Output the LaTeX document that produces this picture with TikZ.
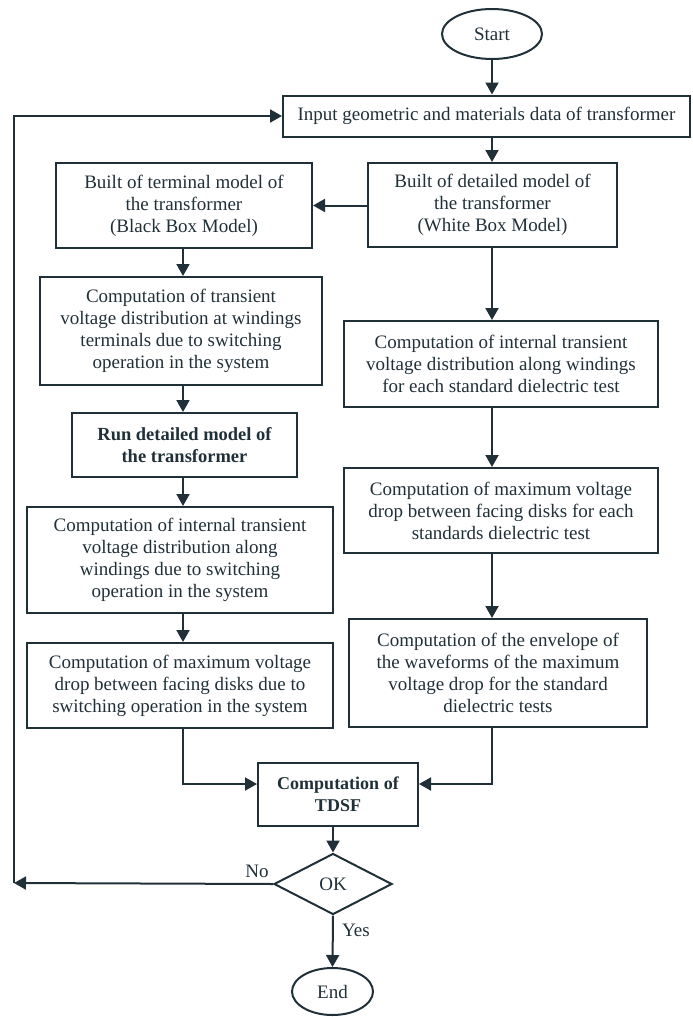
\documentclass[tikz,border=0pt]{standalone}
\usepackage{fontspec}
\setmainfont{Liberation Serif}
\usetikzlibrary{shapes.geometric,arrows.meta}
\definecolor{ink}{RGB}{32,48,56}

\begin{document}
\begin{tikzpicture}[x=1pt,y=-1pt]%[grow'=right]
      \tikzset{every node/.style={text=ink, font=\fontsize{19}{22}\selectfont, align=center, inner sep=0pt},
               procbox/.style={draw=ink, line width=2pt, rectangle},
               termbox/.style={draw=ink, line width=2pt, ellipse},
               okbox/.style={draw=ink, line width=2pt, diamond},
               flow/.style={draw=ink, line width=2pt, -{Triangle[length=12pt,width=13pt]}}}
      \useasboundingbox (0,0) rectangle (693,1017);
          \coordinate (lcol) at (183,0);
          \coordinate (rcol) at (492,0);
          \coordinate (fb) at (14,883);
          \coordinate (mid) at (0,784);
      \node[termbox, minimum width=100pt, minimum height=50pt] (start) at (492,34) {Start};
      \node[procbox, minimum width=407pt, minimum height=41pt] (input) at (486.5,116) {Input geometric and materials data of transformer};
      \node[procbox, minimum width=249pt, minimum height=84pt] (white) at (492.5,205) {Built of detailed model of\\ the transformer\\ (White Box Model)};
      \node[procbox, minimum width=256pt, minimum height=85pt] (black) at (184,205.5) {Built of terminal model of\\ the transformer\\ (Black Box Model)};
      \node[procbox, minimum width=282pt, minimum height=108pt] (trans) at (181,331) {Computation of transient\\ voltage distribution at windings\\ terminals due to switching\\ operation in the system};
      \node[procbox, minimum width=225pt, minimum height=64pt, font=\fontsize{18.5}{22}\selectfont\bfseries] (run) at (184.5,445) {Run detailed model of\\ the transformer};
      \node[procbox, minimum width=306pt, minimum height=106pt] (intL) at (180,560) {Computation of internal transient\\ voltage distribution along\\ windings due to switching\\ operation in the system};
      \node[procbox, minimum width=306pt, minimum height=85pt] (maxL) at (180,685.5) {Computation of maximum voltage\\ drop between facing disks due to\\ switching operation in the system};
      \node[procbox, minimum width=314pt, minimum height=86pt] (intR) at (501,364) {Computation of internal transient\\ voltage distribution along windings\\ for each standard dielectric test};
      \node[procbox, minimum width=314pt, minimum height=85pt] (maxR) at (501,510.5) {Computation of maximum voltage\\ drop between facing disks for each\\ standards dielectric test};
      \node[procbox, minimum width=298pt, minimum height=108pt] (envR) at (498,673) {Computation of the envelope of\\ the waveforms of the maximum\\ voltage drop for the standard\\ dielectric tests};
      \node[procbox, minimum width=160pt, minimum height=63pt, font=\fontsize{18}{22}\selectfont\bfseries] (tdsf) at (338,794.5) {Computation of\\ TDSF};
      \node[okbox, minimum width=118pt, minimum height=61pt, aspect=1.9] (ok) at (333,884) {OK};
      \node[termbox, minimum width=81pt, minimum height=47pt] (end) at (332.5,991.5) {End};
      \node (no) at (257,871) {No};
      \node (yes) at (356,930) {Yes};
      % main flow
      \draw[flow] (start) -- (start |- input.north);
      \draw[flow] (input.south -| rcol) -- (white.north -| rcol);
      \draw[flow] (white.west |- black.east) -- (black.east);
      \draw[flow] (black.south -| lcol) -- (trans.north -| lcol);
      \draw[flow] (trans.south -| lcol) -- (run.north -| lcol);
      \draw[flow] (run.south -| lcol) -- (intL.north -| lcol);
      \draw[flow] (intL.south -| lcol) -- (maxL.north -| lcol);
      \draw[flow] (white.south -| rcol) -- (intR.north -| rcol);
      \draw[flow] (intR.south -| rcol) -- (maxR.north -| rcol);
      \draw[flow] (maxR.south -| rcol) -- (envR.north -| rcol);
      \draw[flow] (maxL.south -| lcol) |- (tdsf.west |- mid);
      \draw[flow] (envR.south -| rcol) |- (tdsf.east |- mid);
      \draw[flow] (tdsf.south -| ok) -- (ok.north);
      \draw[flow] (ok.south) -- (end.north);
      % loop back
      \draw[flow] (ok.west) -- (fb);
      \draw[flow] (fb) |- (input.west);
    \end{tikzpicture}
\end{document}
